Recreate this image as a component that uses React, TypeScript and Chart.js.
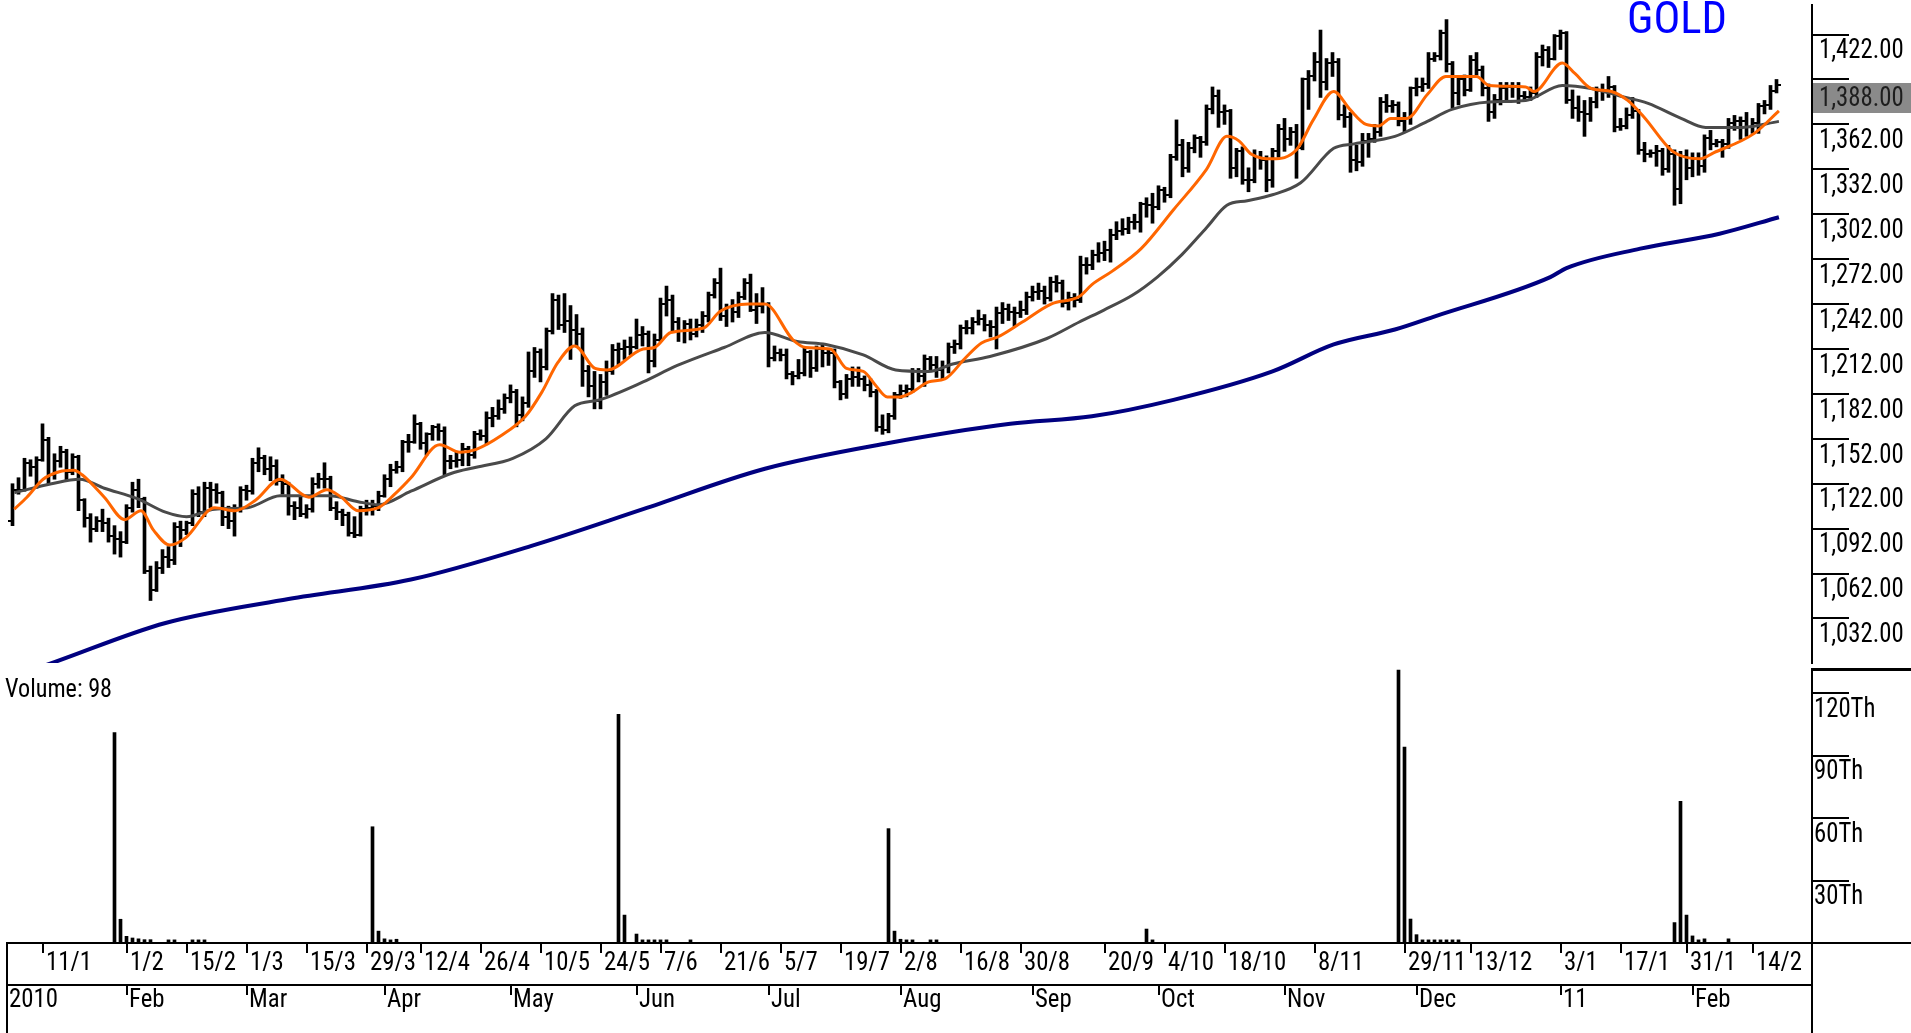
import React, { useEffect, useRef } from 'react';
import { Chart, registerables } from 'chart.js';

Chart.register(...registerables);

const FONT_CANDIDATES = [
  "'Liberation Sans Narrow'", "'Arial Narrow'", "'Nimbus Sans Narrow'", "'Noto Sans ExtraCondensed'",
  "'Noto Sans Condensed'", "'Roboto Condensed'", "'DejaVu Sans Condensed'", "'Liberation Sans'", "'DejaVu Sans'",
];

// ---------------- calendar ----------------
const firstSession = '2010-01-04';
const lastSession = '2011-02-18';
const closedDays = ['2010-01-18', '2010-04-02', '2010-09-06'];
const extraSessions = ['2010-12-05', '2011-01-23', '2011-02-06'];

const dayTickDates = [
  '2010-01-11', '2010-02-01', '2010-02-15', '2010-03-01', '2010-03-15', '2010-03-29', '2010-04-12',
  '2010-04-26', '2010-05-10', '2010-05-24', '2010-06-07', '2010-06-21', '2010-07-05', '2010-07-19',
  '2010-08-02', '2010-08-16', '2010-08-30', '2010-09-20', '2010-10-04', '2010-10-18', '2010-11-08',
  '2010-11-29', '2010-12-13', '2011-01-03', '2011-01-17', '2011-01-31', '2011-02-14',
];
const monthTickDates = [
  '2010-01-04', '2010-02-01', '2010-03-01', '2010-04-01', '2010-05-03', '2010-06-01', '2010-07-01',
  '2010-08-02', '2010-09-01', '2010-10-01', '2010-11-01', '2010-12-01', '2011-01-03', '2011-02-01',
];
const monthTickLabels = ['2010', 'Feb', 'Mar', 'Apr', 'May', 'Jun', 'Jul', 'Aug', 'Sep', 'Oct', 'Nov', 'Dec', '11', 'Feb'];

const priceTicks = [1032, 1062, 1092, 1122, 1152, 1182, 1212, 1242, 1272, 1302, 1332, 1362, 1392, 1422];
const volumeTicks = [30000, 60000, 90000, 120000];
const chartTitle = 'GOLD';

// ---------------- daily OHLC (one row per week) ----------------
const opens = [
  1097, 1118, 1118, 1136, 1133,
  1138, 1151, 1128, 1137, 1143,
  1130, 1140, 1111, 1099,
  1092, 1097, 1096, 1087, 1085,
  1083, 1106, 1118, 1112, 1064,
  1051, 1066, 1073, 1071, 1093,
  1091, 1096, 1115, 1103, 1119,
  1118, 1116, 1100, 1097, 1105,
  1118, 1117, 1136, 1139, 1132,
  1134, 1124, 1122, 1107, 1106,
  1102, 1105, 1122, 1125, 1125,
  1106, 1103, 1101, 1089, 1088,
  1105, 1106, 1107, 1114,
  1125, 1131, 1133, 1150, 1150,
  1162, 1149, 1155, 1160, 1157,
  1137, 1137, 1138, 1145, 1141,
  1155, 1154, 1166, 1167, 1172,
  1179, 1183, 1168, 1176, 1197,
  1210, 1200, 1224, 1245, 1228,
  1231, 1225, 1222, 1197, 1187,
  1177, 1190, 1197, 1211, 1212,
  1213, 1213, 1221, 1222, 1204,
  1218, 1242, 1245, 1230, 1224,
  1229, 1222, 1228, 1234, 1248,
  1256, 1234, 1240, 1237, 1247,
  1256, 1238, 1241, 1242, 1206,
  1209, 1208, 1195, 1194, 1196,
  1210, 1199, 1212, 1209, 1209,
  1190, 1182, 1192, 1193, 1192,
  1188, 1183, 1160, 1158, 1167,
  1181, 1184, 1185, 1197, 1194,
  1205, 1201, 1198, 1200, 1213,
  1215, 1226, 1226, 1230, 1232,
  1228, 1227, 1236, 1239, 1237,
  1236, 1238, 1247, 1250, 1251,
  1246, 1257, 1256, 1243,
  1246, 1245, 1268, 1268, 1275,
  1276, 1278, 1288, 1291, 1292,
  1297, 1297, 1309, 1308, 1307,
  1318, 1315, 1340, 1348, 1333,
  1346, 1353, 1350, 1372, 1381,
  1370, 1371, 1333, 1344, 1325,
  1325, 1340, 1338, 1325, 1344,
  1359, 1352, 1357, 1346, 1392,
  1394, 1404, 1390, 1403, 1404,
  1368, 1367, 1338, 1337, 1351,
  1352, 1357, 1377, 1374, 1375,
  1364, 1366, 1386, 1387, 1389, 1406,
  1408, 1423, 1402, 1383, 1392,
  1385, 1405, 1398, 1386, 1370,
  1378, 1386, 1387, 1387, 1381,
  1380, 1383, 1407, 1412, 1406,
  1421, 1423, 1378, 1373, 1370,
  1369, 1377, 1384, 1385, 1387,
  1360, 1361, 1368, 1371, 1345, 1342,
  1343, 1344, 1332, 1342, 1319,
  1341, 1333, 1339, 1334, 1353, 1349,
  1350, 1349, 1363, 1364, 1364,
  1360, 1363, 1374, 1375, 1384,
];
const highs = [
  1122, 1126, 1139, 1138, 1140,
  1162, 1153, 1142, 1147, 1145,
  1142, 1141, 1112, 1102,
  1100, 1105, 1099, 1094, 1090,
  1108, 1123, 1125, 1113, 1067,
  1070, 1078, 1080, 1096, 1097,
  1097, 1118, 1120, 1123, 1123,
  1122, 1117, 1107, 1108, 1120,
  1121, 1139, 1146, 1141, 1140,
  1138, 1128, 1123, 1110, 1113,
  1108, 1126, 1129, 1136, 1127,
  1110, 1105, 1103, 1100, 1107,
  1111, 1111, 1117, 1128,
  1135, 1137, 1151, 1155, 1168,
  1163, 1156, 1161, 1162, 1160,
  1141, 1143, 1149, 1147, 1157,
  1158, 1170, 1173, 1178, 1182,
  1188, 1185, 1180, 1210, 1213,
  1212, 1226, 1249, 1248, 1249,
  1241, 1235, 1226, 1201, 1197,
  1195, 1204, 1215, 1216, 1218,
  1220, 1232, 1227, 1224, 1222,
  1246, 1254, 1248, 1233, 1231,
  1232, 1232, 1237, 1250, 1259,
  1266, 1242, 1245, 1250, 1259,
  1262, 1249, 1253, 1243, 1214,
  1212, 1212, 1197, 1205, 1213,
  1211, 1214, 1215, 1212, 1212,
  1191, 1195, 1200, 1200, 1194,
  1192, 1185, 1168, 1169, 1183,
  1188, 1188, 1199, 1199, 1208,
  1207, 1207, 1204, 1216, 1218,
  1228, 1231, 1233, 1238, 1235,
  1231, 1240, 1243, 1242, 1240,
  1244, 1250, 1254, 1256, 1254,
  1260, 1261, 1258, 1250,
  1249, 1274, 1273, 1278, 1283,
  1284, 1292, 1297, 1299, 1300,
  1302, 1310, 1313, 1316, 1321,
  1320, 1342, 1365, 1352, 1350,
  1355, 1354, 1375, 1387, 1385,
  1375, 1372, 1346, 1347, 1333,
  1345, 1344, 1341, 1346, 1362,
  1366, 1360, 1362, 1393, 1398,
  1410, 1425, 1406, 1410, 1406,
  1375, 1370, 1348, 1356, 1356,
  1362, 1380, 1382, 1378, 1377,
  1370, 1387, 1393, 1393, 1410, 1410,
  1425, 1432, 1404, 1394, 1395,
  1408, 1410, 1401, 1389, 1382,
  1390, 1390, 1390, 1390, 1384,
  1387, 1410, 1415, 1414, 1422,
  1425, 1424, 1385, 1381, 1378,
  1380, 1387, 1389, 1394, 1388,
  1366, 1373, 1380, 1372, 1350, 1345,
  1348, 1346, 1348, 1345, 1344,
  1345, 1343, 1343, 1355, 1358, 1352,
  1352, 1366, 1368, 1367, 1370,
  1366, 1376, 1378, 1388, 1392,
];
const lows = [
  1094, 1115, 1117, 1127, 1119,
  1137, 1122, 1125, 1133, 1124,
  1128, 1104, 1093, 1083,
  1090, 1090, 1083, 1075, 1073,
  1082, 1103, 1106, 1062, 1044,
  1050, 1062, 1066, 1068, 1080,
  1088, 1094, 1100, 1100, 1106,
  1109, 1094, 1092, 1087, 1103,
  1111, 1115, 1130, 1128, 1124,
  1121, 1115, 1101, 1098, 1100,
  1099, 1103, 1119, 1119, 1104,
  1098, 1094, 1087, 1086, 1087,
  1101, 1101, 1104, 1113,
  1120, 1129, 1130, 1143, 1149,
  1145, 1141, 1151, 1151, 1128,
  1132, 1133, 1134, 1134, 1139,
  1151, 1148, 1160, 1165, 1169,
  1176, 1160, 1164, 1173, 1193,
  1190, 1198, 1222, 1225, 1223,
  1205, 1214, 1187, 1180, 1172,
  1172, 1181, 1195, 1201, 1205,
  1208, 1212, 1214, 1196, 1200,
  1217, 1234, 1224, 1217, 1216,
  1218, 1220, 1223, 1230, 1246,
  1231, 1227, 1230, 1233, 1245,
  1237, 1229, 1236, 1200, 1204,
  1204, 1192, 1188, 1192, 1194,
  1193, 1197, 1200, 1201, 1186,
  1178, 1179, 1187, 1187, 1184,
  1180, 1157, 1155, 1156, 1165,
  1179, 1180, 1183, 1190, 1187,
  1198, 1193, 1192, 1196, 1209,
  1212, 1222, 1222, 1228, 1224,
  1220, 1212, 1229, 1231, 1227,
  1233, 1235, 1244, 1245, 1242,
  1244, 1250, 1240, 1238,
  1240, 1243, 1262, 1265, 1270,
  1271, 1270, 1285, 1288, 1289,
  1292, 1290, 1300, 1296, 1305,
  1310, 1313, 1338, 1327, 1330,
  1343, 1340, 1348, 1369, 1360,
  1362, 1326, 1327, 1322, 1317,
  1323, 1332, 1317, 1320, 1340,
  1344, 1348, 1326, 1345, 1372,
  1391, 1380, 1385, 1394, 1365,
  1360, 1330, 1331, 1334, 1340,
  1350, 1354, 1370, 1370, 1361,
  1357, 1362, 1381, 1384, 1386, 1404,
  1405, 1397, 1373, 1375, 1381,
  1384, 1395, 1381, 1364, 1366,
  1375, 1378, 1380, 1376, 1378,
  1378, 1380, 1401, 1400, 1405,
  1412, 1376, 1366, 1364, 1354,
  1364, 1373, 1378, 1380, 1357,
  1358, 1359, 1366, 1342, 1337, 1340,
  1334, 1328, 1330, 1308, 1309,
  1325, 1327, 1328, 1330, 1345, 1347,
  1340, 1346, 1358, 1352, 1354,
  1356, 1356, 1369, 1372, 1383,
];
const closes = [
  1118, 1118, 1136, 1133, 1138,
  1151, 1128, 1137, 1143, 1130,
  1140, 1111, 1099, 1092,
  1097, 1096, 1087, 1085, 1083,
  1106, 1118, 1112, 1064, 1051,
  1066, 1073, 1071, 1093, 1091,
  1096, 1115, 1103, 1119, 1118,
  1116, 1100, 1097, 1105, 1118,
  1117, 1136, 1139, 1132, 1134,
  1124, 1122, 1107, 1106, 1102,
  1105, 1122, 1125, 1125, 1106,
  1103, 1101, 1089, 1088, 1105,
  1106, 1107, 1114, 1125,
  1131, 1133, 1150, 1150, 1162,
  1149, 1155, 1160, 1157, 1137,
  1137, 1138, 1145, 1141, 1155,
  1154, 1166, 1167, 1172, 1179,
  1183, 1168, 1176, 1197, 1210,
  1200, 1224, 1245, 1228, 1231,
  1225, 1222, 1197, 1187, 1177,
  1190, 1197, 1211, 1212, 1213,
  1213, 1221, 1222, 1204, 1218,
  1242, 1245, 1230, 1224, 1229,
  1222, 1228, 1234, 1248, 1256,
  1234, 1240, 1237, 1247, 1256,
  1238, 1241, 1242, 1206, 1209,
  1208, 1195, 1194, 1196, 1210,
  1199, 1212, 1209, 1209, 1190,
  1182, 1192, 1193, 1192, 1188,
  1183, 1160, 1158, 1167, 1181,
  1184, 1185, 1197, 1194, 1205,
  1201, 1198, 1200, 1213, 1215,
  1226, 1226, 1230, 1232, 1228,
  1227, 1236, 1239, 1237, 1236,
  1238, 1247, 1250, 1251, 1246,
  1257, 1256, 1243, 1246,
  1245, 1268, 1268, 1275, 1276,
  1278, 1288, 1291, 1292, 1297,
  1297, 1309, 1308, 1307, 1318,
  1315, 1340, 1348, 1333, 1346,
  1353, 1350, 1372, 1381, 1370,
  1371, 1333, 1344, 1325, 1325,
  1340, 1338, 1325, 1344, 1359,
  1352, 1357, 1346, 1392, 1394,
  1404, 1390, 1403, 1404, 1368,
  1367, 1338, 1337, 1351, 1352,
  1357, 1377, 1374, 1375, 1364,
  1366, 1386, 1387, 1389, 1406, 1408,
  1423, 1402, 1383, 1392, 1385,
  1405, 1398, 1386, 1370, 1378,
  1386, 1387, 1387, 1381, 1380,
  1383, 1407, 1412, 1406, 1421,
  1423, 1378, 1373, 1370, 1369,
  1377, 1384, 1385, 1387, 1360,
  1361, 1368, 1371, 1345, 1342, 1343,
  1344, 1332, 1342, 1319, 1341,
  1333, 1339, 1334, 1353, 1349, 1350,
  1349, 1363, 1364, 1364, 1360,
  1363, 1374, 1375, 1384, 1388,
];
const volumes = [
  0, 0, 0, 0, 0,
  0, 0, 0, 0, 0,
  0, 0, 0, 0,
  0, 0, 0, 101000, 11400,
  3200, 2400, 2000, 1600, 1600,
  0, 0, 1500, 1500, 0,
  0, 1500, 1500, 1500, 0,
  0, 0, 0, 0, 0,
  0, 0, 0, 0, 0,
  0, 0, 0, 0, 0,
  0, 0, 0, 0, 0,
  0, 0, 0, 0, 0,
  0, 55800, 5700, 2000,
  1500, 1800, 0, 0, 0,
  0, 0, 0, 0, 0,
  0, 0, 0, 0, 0,
  0, 0, 0, 0, 0,
  0, 0, 0, 0, 0,
  0, 0, 0, 0, 0,
  0, 0, 0, 0, 0,
  0, 0, 0, 109800, 13400,
  0, 4300, 1500, 1500, 1500,
  1500, 1500, 0, 0, 0,
  1500, 0, 0, 0, 0,
  0, 0, 0, 0, 0,
  0, 0, 0, 0, 0,
  0, 0, 0, 0, 0,
  0, 0, 0, 0, 0,
  0, 0, 0, 0, 0,
  0, 0, 0, 54900, 5700,
  1800, 1500, 1500, 0, 0,
  1500, 1500, 0, 0, 0,
  0, 0, 0, 0, 0,
  0, 0, 0, 0, 0,
  0, 0, 0, 0, 0,
  0, 0, 0, 0,
  0, 0, 0, 0, 0,
  0, 0, 0, 0, 0,
  0, 0, 6700, 1500, 0,
  0, 0, 0, 0, 0,
  0, 0, 0, 0, 0,
  0, 0, 0, 0, 0,
  0, 0, 0, 0, 0,
  0, 0, 0, 0, 0,
  0, 0, 0, 0, 0,
  0, 0, 0, 0, 0,
  0, 0, 0, 0, 131000,
  94000, 11500, 4000, 1500, 1500, 1500,
  1500, 1500, 1500, 1500, 0,
  0, 0, 0, 0, 0,
  0, 0, 0, 0, 0,
  0, 0, 0, 0, 0,
  0, 0, 0, 0, 0,
  0, 0, 0, 0, 0,
  0, 0, 0, 0, 0, 0,
  0, 0, 0, 9800, 68000,
  13400, 3400, 1500, 2000, 0, 0,
  0, 2000, 0, 0, 0,
  0, 0, 0, 0, 98,
];

// ---------------- moving averages: [session index, value] ----------------
const maShortLine: [number, number][] = [
  [0.3, 1105], [2.4, 1113], [5.1, 1125], [7.8, 1130], [10.2, 1131], [11.6, 1128], [15.3, 1113],
  [18.7, 1098], [21.4, 1104], [23.5, 1091], [26.2, 1081], [28.9, 1086], [33.7, 1106], [37.1, 1104],
  [40.5, 1111], [44.6, 1125], [49.4, 1113], [52.4, 1118], [54.8, 1113], [57.6, 1104], [61, 1106],
  [63.7, 1115], [66.4, 1126], [71.2, 1148], [74.6, 1143], [77.3, 1145], [81.4, 1154], [85.5, 1167],
  [88.2, 1183], [90.9, 1203], [93.7, 1214], [97.1, 1199], [99.1, 1198], [105.1, 1212], [107, 1213],
  [109.7, 1223], [115.2, 1226], [117.9, 1237], [122.7, 1242], [125.4, 1242], [130.1, 1218],
  [132.2, 1213], [136.3, 1212], [139, 1199], [141.8, 1197], [143.8, 1188], [145.8, 1180],
  [147.9, 1180], [149.9, 1183], [152.7, 1190], [155.4, 1192], [158.8, 1206], [161.5, 1216],
  [164.2, 1220], [168.3, 1230], [173.1, 1242], [177.8, 1247], [179.9, 1255], [183.3, 1264],
  [188.1, 1279], [193.5, 1305], [199, 1332], [202.4, 1354], [204.4, 1351], [206.5, 1342],
  [210, 1339], [214, 1345], [216.8, 1365], [220.2, 1384], [222.9, 1372], [225.6, 1362],
  [227.7, 1361], [229.7, 1366], [232.4, 1366], [235.8, 1382], [238.9, 1394], [244, 1394],
  [246.1, 1388], [252.2, 1387], [253.6, 1384], [258.3, 1403], [260.4, 1396], [263.1, 1386],
  [266.5, 1384], [269.2, 1378], [271.9, 1367], [276.7, 1344], [281.2, 1339], [283.5, 1343],
  [290.3, 1356], [294.4, 1371],
];
const maMidLine: [number, number][] = [
  [0.3, 1116], [6.5, 1122], [11.2, 1125], [15.3, 1119], [20.8, 1112], [25.5, 1103], [29, 1100],
  [33.7, 1105], [39.2, 1106], [44.6, 1114], [49.4, 1114], [52.8, 1114], [57.6, 1110], [61, 1108],
  [66.4, 1117], [73.2, 1129], [77.3, 1133], [83.4, 1139], [88.9, 1152], [93.7, 1174], [97.8, 1178],
  [105.1, 1190], [110.8, 1201], [118.6, 1213], [125.4, 1223], [130.8, 1217], [135.6, 1215],
  [141.8, 1208], [147.2, 1198], [152.7, 1197], [156.7, 1202], [162.9, 1207], [172.4, 1219],
  [177.8, 1230], [181.9, 1238], [186.7, 1248], [190.8, 1260], [194.9, 1275], [199, 1293],
  [202.4, 1308], [205.8, 1311], [210, 1315], [214.7, 1323], [220.2, 1346], [223.6, 1349],
  [230.4, 1354], [235.8, 1364], [239.9, 1372], [246.1, 1377], [252.2, 1378], [258.3, 1388],
  [263.1, 1386], [267.9, 1381], [272.6, 1376], [278.1, 1366], [282.2, 1360], [288.3, 1360],
  [294.4, 1364],
];
const maLongLine: [number, number][] = [
  [0, 993], [7.1, 1003], [25.5, 1029], [46, 1045], [66.4, 1058], [86.9, 1081], [105.1, 1105],
  [125.4, 1132], [145.8, 1149], [166.3, 1162], [179.9, 1167], [193.5, 1178], [210, 1197],
  [220.2, 1215], [230.4, 1225], [237.2, 1234], [256.3, 1260], [259, 1266], [271.3, 1279],
  [284.5, 1289], [294.4, 1300],
];

// ---------------- layout (pixels / axis ranges) ----------------
const PAD_LEFT = 7;
const AXIS_WIDTH = 99;
const PRICE_HEIGHT = 668;
const LOWER_HEIGHT = 365;
const DAY_ROW = 42;
const MONTH_ROW = 48;
const X_MIN = -5.5 / 6;
const X_MAX = X_MIN + 1805 / 6;
const TICK_SHIFT = 1 / 12;
const PRICE_MIN = 1002.26;
const PRICE_MAX = 1441.74;
const VOL_MAX = 132000;

function buildSessions(): string[] {
  const out: string[] = [];
  const d = new Date(firstSession + 'T00:00:00Z');
  const end = new Date(lastSession + 'T00:00:00Z');
  while (d.getTime() <= end.getTime()) {
    const iso = d.toISOString().slice(0, 10);
    const wd = d.getUTCDay();
    if ((wd !== 0 && wd !== 6 && closedDays.indexOf(iso) < 0) || extraSessions.indexOf(iso) >= 0) out.push(iso);
    d.setUTCDate(d.getUTCDate() + 1);
  }
  return out;
}

const dayLabel = (iso: string) => `${parseInt(iso.slice(8, 10), 10)}/${parseInt(iso.slice(5, 7), 10)}`;
const fmtPrice = (v: number) => v.toLocaleString('en-US', { minimumFractionDigits: 2, maximumFractionDigits: 2 });

function pickFamily(): string {
  const c = document.createElement('canvas').getContext('2d') as CanvasRenderingContext2D;
  const sample = '1,422.00 Volume GOLD 29/11';
  for (const fam of FONT_CANDIDATES) {
    let differs = false;
    for (const base of ['monospace', 'serif']) {
      c.font = `40px ${base}`;
      const w0 = c.measureText(sample).width;
      c.font = `40px ${fam}, ${base}`;
      const w1 = c.measureText(sample).width;
      if (Math.abs(w1 - w0) > 0.5) differs = true;
    }
    if (differs) return fam;
  }
  return 'sans-serif';
}

function makeTickImage(side: 'left' | 'right'): HTMLCanvasElement {
  const c = document.createElement('canvas');
  c.width = 9;
  c.height = 2;
  const g = c.getContext('2d') as CanvasRenderingContext2D;
  g.fillStyle = '#000';
  if (side === 'left') g.fillRect(0, 0, 3, 2);
  else g.fillRect(6, 0, 3, 2);
  return c;
}

function zeroPadding(s: any) {
  s.paddingTop = 0;
  s.paddingBottom = 0;
  s.paddingLeft = 0;
  s.paddingRight = 0;
}

// narrows the glyphs of an axis' labels (the reference uses a condensed bitmap font)
function squeezePlugin(factors: Record<string, number>) {
  return {
    id: 'squeezeLabels',
    beforeDraw(chart: any) {
      Object.keys(factors).forEach((id) => {
        const s = chart.scales[id];
        if (!s || s.__squeezed) return;
        s.__squeezed = true;
        const sx = factors[id];
        const origDraw = s.drawLabels;
        const origArea = s._computeLabelArea;
        s._computeLabelArea = function () {
          const a = origArea.call(this);
          return a ? { top: a.top, bottom: a.bottom, left: a.left / sx, right: a.right / sx } : a;
        };
        s.drawLabels = function (area: any) {
          const items = this.getLabelItems(area);
          const saved = items.map((it: any) => it.options.translation);
          items.forEach((it: any) => {
            const t = it.options.translation;
            it.options.translation = [t[0] / sx, t[1]];
          });
          this.ctx.save();
          this.ctx.scale(sx, 1);
          try {
            origDraw.call(this, area);
          } finally {
            this.ctx.restore();
            items.forEach((it: any, k: number) => {
              it.options.translation = saved[k];
            });
          }
        };
      });
    },
  };
}

export default function App() {
  const priceRef = useRef<HTMLCanvasElement>(null);
  const volRef = useRef<HTMLCanvasElement>(null);

  useEffect(() => {
    const FAMILY = pickFamily();
    const mctx = document.createElement('canvas').getContext('2d') as CanvasRenderingContext2D;
    const measure = (txt: string, size: number) => {
      mctx.font = `${size}px ${FAMILY}`;
      return mctx.measureText(txt).width || 1;
    };
    const Y_SIZE = 27;
    const X_SIZE = 25;
    const TITLE_SIZE = 44;
    const sxY = Math.min(1.05, 84.6 / measure('1,422.00', Y_SIZE));
    const sxX = Math.min(1.05, 49 / measure('2010', X_SIZE));
    const sxTitle = Math.min(1.05, 100 / measure(chartTitle, TITLE_SIZE));

    const sessions = buildSessions();
    const n = Math.min(sessions.length, opens.length, highs.length, lows.length, closes.length, volumes.length);
    const idx = Array.from({ length: n }, (_, i) => i);
    const lastClose = closes[n - 1];
    const lastVolume = volumes[n - 1];
    const volText = `Volume: ${lastVolume}`;
    const sxVol = Math.min(1.05, 107 / measure(volText, X_SIZE));

    const dayTicks = dayTickDates
      .map((d) => ({ i: sessions.indexOf(d), label: dayLabel(d) }))
      .filter((t) => t.i >= 0 && t.i < n);
    const dayLabelMap = new Map<number, string>();
    dayTicks.forEach((t) => dayLabelMap.set(t.i + TICK_SHIFT, t.label));

    const monthTicks = monthTickDates
      .map((d, k) => ({ i: sessions.indexOf(d), label: monthTickLabels[k], first: k === 0 }))
      .filter((t) => t.i >= 0 && t.i < n)
      .map((t) => ({ v: t.first ? X_MIN : t.i + TICK_SHIFT, label: t.label }));
    const monthLabelMap = new Map<number, string>();
    monthTicks.forEach((t) => monthLabelMap.set(t.v, t.label));

    const openImg = makeTickImage('left');
    const closeImg = makeTickImage('right');

    const drawSqueezed = (ctx: any, text: string, x: number, y: number, sx: number) => {
      ctx.save();
      ctx.translate(x, 0);
      ctx.scale(sx, 1);
      ctx.fillText(text, 0, y);
      ctx.restore();
    };

    const priceOverlay = {
      id: 'priceOverlay',
      afterDraw(chart: any) {
        const { ctx } = chart;
        const ys = chart.scales.y;
        const y = ys.getPixelForValue(lastClose);
        ctx.save();
        ctx.fillStyle = '#8a8a8a';
        ctx.fillRect(ys.left + 1, Math.round(y - 2), chart.width - ys.left - 1, 30);
        ctx.fillStyle = '#1e1e1e';
        ctx.font = `${Y_SIZE}px ${FAMILY}`;
        ctx.textAlign = 'left';
        ctx.textBaseline = 'middle';
        drawSqueezed(ctx, fmtPrice(lastClose), ys.left + 7, y + 14, sxY);
        ctx.fillStyle = '#0000ff';
        ctx.font = `${TITLE_SIZE}px ${FAMILY}`;
        ctx.textBaseline = 'alphabetic';
        drawSqueezed(ctx, chartTitle, 1627, 33, sxTitle);
        ctx.restore();
      },
    };

    const volumeOverlay = {
      id: 'volumeOverlay',
      afterDraw(chart: any) {
        const { ctx, chartArea: a, width, height } = chart;
        ctx.save();
        ctx.fillStyle = '#000';
        ctx.fillRect(a.right - 1, 0, width - a.right + 1, 3);
        ctx.fillRect(a.right, a.bottom - 1, width - a.right, 2);
        ctx.fillRect(a.left - 1, a.bottom - 1, 2, height - a.bottom + 1);
        ctx.fillRect(a.right - 1, a.bottom - 1, 2, height - a.bottom + 1);
        ctx.font = `${X_SIZE}px ${FAMILY}`;
        ctx.textAlign = 'left';
        ctx.textBaseline = 'alphabetic';
        drawSqueezed(ctx, volText, 5, 29, sxVol);
        ctx.restore();
      },
    };

    const rightAxis = (min: number, max: number, ticks: number[], fmt: (v: number) => string, pad: number) => ({
      type: 'linear',
      position: 'right',
      min,
      max,
      bounds: 'data',
      afterBuildTicks: (s: any) => {
        s.ticks = ticks.map((v) => ({ value: v }));
      },
      afterFit: (s: any) => {
        s.width = AXIS_WIDTH;
        zeroPadding(s);
      },
      grid: { drawOnChartArea: false, drawTicks: true, tickLength: 37, color: '#000', lineWidth: 2 },
      border: { display: true, color: '#000', width: 2 },
      ticks: {
        autoSkip: false,
        padding: pad,
        labelOffset: 17,
        color: '#000',
        font: { family: FAMILY, size: Y_SIZE, lineHeight: 1.2 },
        callback: (v: any) => fmt(Number(v)),
      },
    });

    const bottomAxis = (
      ticksList: { v: number; label: string }[],
      labelMap: Map<number, string>,
      height: number,
      pad: number,
      labelOffset: number,
      hideFirstMark: boolean,
    ) => ({
      type: 'linear',
      position: 'bottom',
      min: X_MIN,
      max: X_MAX,
      offset: false,
      bounds: 'data',
      afterBuildTicks: (s: any) => {
        s.ticks = ticksList.map((t) => ({ value: t.v }));
      },
      afterFit: (s: any) => {
        s.height = height;
        zeroPadding(s);
      },
      grid: {
        drawOnChartArea: false,
        drawTicks: true,
        tickLength: 10,
        color: '#000',
        tickColor: (c: any) => (hideFirstMark && c.index === 0 ? 'rgba(0,0,0,0)' : '#000'),
        lineWidth: 2,
        offset: false,
      },
      border: { display: true, color: '#000', width: 2 },
      ticks: {
        autoSkip: false,
        maxRotation: 0,
        minRotation: 0,
        align: 'start',
        labelOffset,
        padding: pad,
        color: '#000',
        font: { family: FAMILY, size: X_SIZE, lineHeight: 1.2 },
        callback: (v: any) => labelMap.get(Number(v)) ?? '',
      },
    });

    const priceChart = new Chart(priceRef.current as HTMLCanvasElement, {
      type: 'bar',
      data: {
        datasets: [
          {
            type: 'line',
            label: 'MA short',
            data: maShortLine.map(([x, y]) => ({ x, y })),
            borderColor: '#ff6600',
            borderWidth: 3,
            pointRadius: 0,
            cubicInterpolationMode: 'monotone',
            order: 0,
          },
          {
            type: 'line',
            label: 'MA mid',
            data: maMidLine.map(([x, y]) => ({ x, y })),
            borderColor: '#4a4a4a',
            borderWidth: 3,
            pointRadius: 0,
            cubicInterpolationMode: 'monotone',
            order: 1,
          },
          {
            type: 'line',
            label: 'MA long',
            data: maLongLine.map(([x, y]) => ({ x, y })),
            borderColor: '#000080',
            borderWidth: 4,
            pointRadius: 0,
            cubicInterpolationMode: 'monotone',
            order: 2,
          },
          {
            type: 'line',
            label: 'Open',
            data: idx.map((i) => ({ x: i, y: opens[i] })),
            showLine: false,
            pointStyle: openImg,
            pointRadius: 3,
            order: 3,
          },
          {
            type: 'line',
            label: 'Close',
            data: idx.map((i) => ({ x: i, y: closes[i] })),
            showLine: false,
            pointStyle: closeImg,
            pointRadius: 3,
            order: 3,
          },
          {
            type: 'bar',
            label: 'Range',
            data: idx.map((i) => ({ x: i, y: [lows[i], highs[i]] })),
            backgroundColor: '#000',
            barThickness: 3,
            order: 4,
          },
        ],
      } as any,
      options: {
        responsive: false,
        animation: false,
        devicePixelRatio: 1,
        events: [],
        layout: { padding: { left: PAD_LEFT, right: 0, top: 0, bottom: 0 } },
        plugins: { legend: { display: false }, tooltip: { enabled: false } },
        scales: {
          x: { type: 'linear', display: false, min: X_MIN, max: X_MAX, offset: false, bounds: 'data' },
          y: rightAxis(PRICE_MIN, PRICE_MAX, priceTicks, fmtPrice, -30),
        },
      } as any,
      plugins: [squeezePlugin({ y: sxY }), priceOverlay],
    });

    const volChart = new Chart(volRef.current as HTMLCanvasElement, {
      type: 'bar',
      data: {
        datasets: [
          {
            type: 'bar',
            label: 'Volume',
            data: idx.map((i) => ({ x: i, y: volumes[i] })),
            backgroundColor: '#000',
            barThickness: 3,
            xAxisID: 'x',
            yAxisID: 'y',
          },
        ],
      } as any,
      options: {
        responsive: false,
        animation: false,
        devicePixelRatio: 1,
        events: [],
        layout: { padding: { left: PAD_LEFT, right: 0, top: 0, bottom: 0 } },
        plugins: { legend: { display: false }, tooltip: { enabled: false } },
        scales: {
          x: bottomAxis(dayTicks.map((t) => ({ v: t.i + TICK_SHIFT, label: t.label })), dayLabelMap, DAY_ROW, -4, 3, false),
          x2: bottomAxis(monthTicks, monthLabelMap, MONTH_ROW, -9, 2, true),
          y: rightAxis(0, VOL_MAX, volumeTicks, (v) => `${Math.round(v / 1000)}Th`, -35),
        },
      } as any,
      plugins: [squeezePlugin({ x: sxX, x2: sxX, y: sxY }), volumeOverlay],
    });

    return () => {
      priceChart.destroy();
      volChart.destroy();
    };
  }, []);

  return (
    <div style={{ position: 'absolute', left: 0, top: 0, width: 1911, height: 1033, background: '#fff' }}>
      <canvas ref={priceRef} width={1911} height={PRICE_HEIGHT} style={{ display: 'block', width: 1911, height: PRICE_HEIGHT }} />
      <canvas ref={volRef} width={1911} height={LOWER_HEIGHT} style={{ display: 'block', width: 1911, height: LOWER_HEIGHT }} />
    </div>
  );
}
